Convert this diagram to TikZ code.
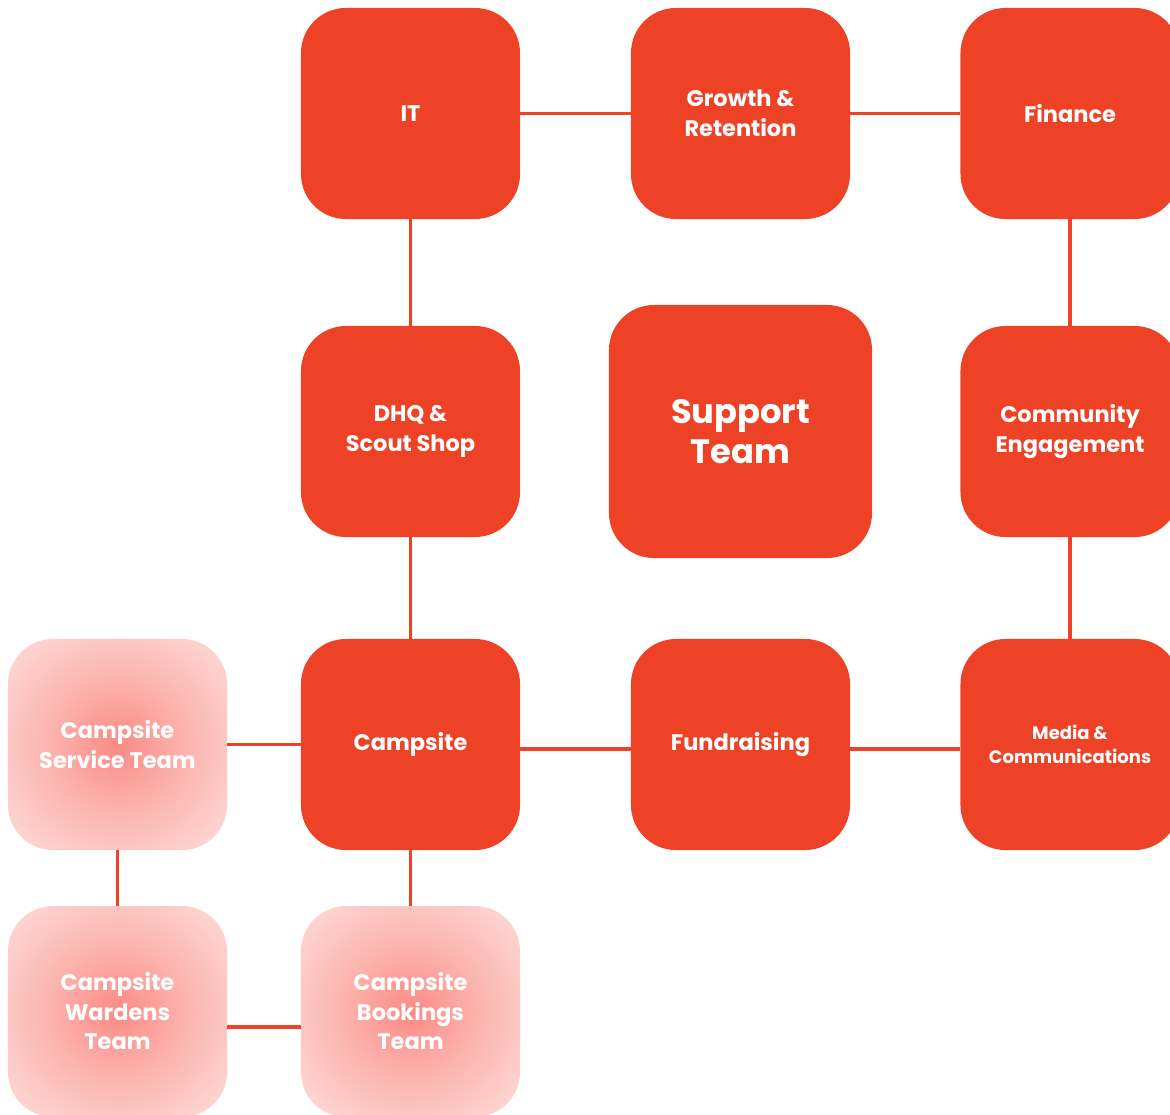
\documentclass[tikz,border=0pt]{standalone}
\usepackage{fontspec}
\setmainfont{Poppins}
\definecolor{teamred}{HTML}{EE4227}
\definecolor{glowin}{RGB}{250,138,132}
\definecolor{glowmid}{RGB}{252,178,173}
\definecolor{glowout}{RGB}{253,212,208}
\pgfdeclareradialshading{glow}{\pgfpoint{0bp}{0bp}}{color(0bp)=(glowin); color(15bp)=(glowmid); color(31bp)=(glowout); color(50bp)=(glowout)}

\begin{document}
\begin{tikzpicture}[x=0.025cm,y=-0.025cm,
  team/.style={fill=teamred,rounded corners=1.125cm,minimum width=5.475cm,minimum height=5.275cm,
    inner sep=0pt,align=center,text=white,font=\bfseries\fontsize{16}{21}\selectfont},
  subteam/.style={team,fill=none,shading=glow},
  link/.style={draw=teamred,line width=2.8pt}]
\useasboundingbox (0,0) rectangle (1170,1114);
\clip (0,0) rectangle (1170,1114);
% top row
\node[team] (it) at (410.5,113.5) {IT};
\node[team] (growth) at (740.5,113.5) {Growth \&\\Retention};
\node[team] (finance) at (1070,113.5) {Finance};
% middle row
\node[team] (dhq) at (410.5,431.5) {DHQ \&\\Scout Shop};
\node[team,minimum width=6.575cm,minimum height=6.325cm,font=\bfseries\fontsize{24}{28}\selectfont] (support) at (740.5,431.5) {Support\\Team};
\node[team] (community) at (1070,431.5) {Community\\Engagement};
% bottom row
\node[team] (campsite) at (410.5,744.5) {Campsite};
\node[team] (fundraising) at (740.5,744.5) {Fundraising};
\node[team,font=\bfseries\fontsize{12.8}{17}\selectfont] (media) at (1070,744.5) {Media \&\\Communications};
% campsite teams
\node[subteam] (service) at (117.5,744.5) {Campsite\\Service Team};
\node[subteam] (wardens) at (117.5,1011.5) {Campsite\\Wardens\\Team};
\node[subteam] (bookings) at (410.5,1011.5) {Campsite\\Bookings\\Team};
\draw[link] (it) -- (growth);
\draw[link] (growth) -- (finance);
\draw[link] (it) -- (dhq);
\draw[link] (dhq) -- (campsite);
\draw[link] (finance) -- (community);
\draw[link] (community) -- (media);
\draw[link] ([yshift=-0.11cm]campsite.east) -- ([yshift=-0.11cm]fundraising.west);
\draw[link] ([yshift=-0.11cm]fundraising.east) -- ([yshift=-0.11cm]media.west);
\draw[link] (service) -- (campsite);
\draw[link] (service) -- (wardens);
\draw[link] (campsite) -- (bookings);
\draw[link] ([yshift=-0.39cm]wardens.east) -- ([yshift=-0.39cm]bookings.west);
\end{tikzpicture}
\end{document}
